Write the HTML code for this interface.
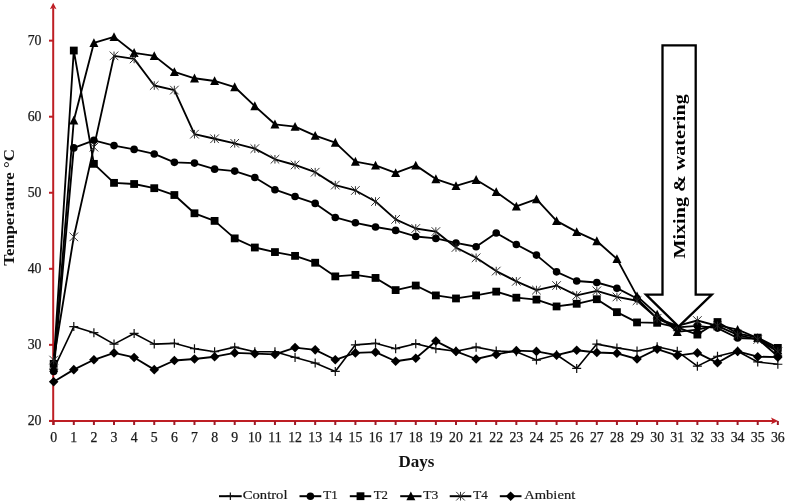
<!DOCTYPE html>
<html><head><meta charset="utf-8"><style>
html,body{margin:0;padding:0;background:#fff;}
svg{display:block;will-change:transform;}
</style></head><body>
<svg width="787" height="503" viewBox="0 0 787 503">
<rect width="787" height="503" fill="#fff"/>
<g stroke="#BE1E24" stroke-width="2" fill="none">
<path d="M53.2 425V8"/>
<path d="M49 420.9H775"/>
<path d="M49 420.9H53.2"/>
<path d="M49 344.85H53.2"/>
<path d="M49 268.8H53.2"/>
<path d="M49 192.75H53.2"/>
<path d="M49 116.7H53.2"/>
<path d="M49 40.65H53.2"/>
<path d="M53.67 421V425" stroke="#9E1A26"/>
<path d="M73.79 421V425" stroke="#9E1A26"/>
<path d="M93.9 421V425" stroke="#9E1A26"/>
<path d="M114.02 421V425" stroke="#9E1A26"/>
<path d="M134.13 421V425" stroke="#9E1A26"/>
<path d="M154.25 421V425" stroke="#9E1A26"/>
<path d="M174.37 421V425" stroke="#9E1A26"/>
<path d="M194.48 421V425" stroke="#9E1A26"/>
<path d="M214.6 421V425" stroke="#9E1A26"/>
<path d="M234.71 421V425" stroke="#9E1A26"/>
<path d="M254.83 421V425" stroke="#9E1A26"/>
<path d="M274.95 421V425" stroke="#9E1A26"/>
<path d="M295.06 421V425" stroke="#9E1A26"/>
<path d="M315.18 421V425" stroke="#9E1A26"/>
<path d="M335.29 421V425" stroke="#9E1A26"/>
<path d="M355.41 421V425" stroke="#9E1A26"/>
<path d="M375.53 421V425" stroke="#9E1A26"/>
<path d="M395.64 421V425" stroke="#9E1A26"/>
<path d="M415.76 421V425" stroke="#9E1A26"/>
<path d="M435.87 421V425" stroke="#9E1A26"/>
<path d="M455.99 421V425" stroke="#9E1A26"/>
<path d="M476.11 421V425" stroke="#9E1A26"/>
<path d="M496.22 421V425" stroke="#9E1A26"/>
<path d="M516.34 421V425" stroke="#9E1A26"/>
<path d="M536.45 421V425" stroke="#9E1A26"/>
<path d="M556.57 421V425" stroke="#9E1A26"/>
<path d="M576.69 421V425" stroke="#9E1A26"/>
<path d="M596.8 421V425" stroke="#9E1A26"/>
<path d="M616.92 421V425" stroke="#9E1A26"/>
<path d="M637.03 421V425" stroke="#9E1A26"/>
<path d="M657.15 421V425" stroke="#9E1A26"/>
<path d="M677.27 421V425" stroke="#9E1A26"/>
<path d="M697.38 421V425" stroke="#9E1A26"/>
<path d="M717.5 421V425" stroke="#9E1A26"/>
<path d="M737.61 421V425" stroke="#9E1A26"/>
<path d="M757.73 421V425" stroke="#9E1A26"/>
<path d="M777.85 421V425" stroke="#9E1A26"/>
</g>
<path d="M53.2 2.8L56.5 9.2L53.2 7.8L49.9 9.2Z" fill="#BE1E24"/>
<path d="M778.2 420.9L771 417.6L772.6 420.9L771 424.2Z" fill="#BE1E24"/>
<g font-family="Liberation Serif" font-size="13.8" fill="#1a1a1a" stroke="#1a1a1a" stroke-width="0.25"><text x="41.5" y="425" text-anchor="end">20</text><text x="41.5" y="348.95" text-anchor="end">30</text><text x="41.5" y="272.9" text-anchor="end">40</text><text x="41.5" y="196.85" text-anchor="end">50</text><text x="41.5" y="120.8" text-anchor="end">60</text><text x="41.5" y="44.75" text-anchor="end">70</text><text x="53.67" y="442.3" text-anchor="middle">0</text><text x="73.79" y="442.3" text-anchor="middle">1</text><text x="93.9" y="442.3" text-anchor="middle">2</text><text x="114.02" y="442.3" text-anchor="middle">3</text><text x="134.13" y="442.3" text-anchor="middle">4</text><text x="154.25" y="442.3" text-anchor="middle">5</text><text x="174.37" y="442.3" text-anchor="middle">6</text><text x="194.48" y="442.3" text-anchor="middle">7</text><text x="214.6" y="442.3" text-anchor="middle">8</text><text x="234.71" y="442.3" text-anchor="middle">9</text><text x="254.83" y="442.3" text-anchor="middle">10</text><text x="274.95" y="442.3" text-anchor="middle">11</text><text x="295.06" y="442.3" text-anchor="middle">12</text><text x="315.18" y="442.3" text-anchor="middle">13</text><text x="335.29" y="442.3" text-anchor="middle">14</text><text x="355.41" y="442.3" text-anchor="middle">15</text><text x="375.53" y="442.3" text-anchor="middle">16</text><text x="395.64" y="442.3" text-anchor="middle">17</text><text x="415.76" y="442.3" text-anchor="middle">18</text><text x="435.87" y="442.3" text-anchor="middle">19</text><text x="455.99" y="442.3" text-anchor="middle">20</text><text x="476.11" y="442.3" text-anchor="middle">21</text><text x="496.22" y="442.3" text-anchor="middle">22</text><text x="516.34" y="442.3" text-anchor="middle">23</text><text x="536.45" y="442.3" text-anchor="middle">24</text><text x="556.57" y="442.3" text-anchor="middle">25</text><text x="576.69" y="442.3" text-anchor="middle">26</text><text x="596.8" y="442.3" text-anchor="middle">27</text><text x="616.92" y="442.3" text-anchor="middle">28</text><text x="637.03" y="442.3" text-anchor="middle">29</text><text x="657.15" y="442.3" text-anchor="middle">30</text><text x="677.27" y="442.3" text-anchor="middle">31</text><text x="697.38" y="442.3" text-anchor="middle">32</text><text x="717.5" y="442.3" text-anchor="middle">33</text><text x="737.61" y="442.3" text-anchor="middle">34</text><text x="757.73" y="442.3" text-anchor="middle">35</text><text x="777.85" y="442.3" text-anchor="middle">36</text></g>
<text x="416.5" y="466.6" text-anchor="middle" font-family="Liberation Serif" font-size="17" font-weight="bold" fill="#111">Days</text>
<text transform="translate(14.3 207.4) rotate(-90) scale(1.124 1)" text-anchor="middle" font-family="Liberation Serif" font-size="15" font-weight="bold" fill="#111">Temperature °C</text>
<polyline points="53.67,369.19 73.79,326.6 93.9,332.68 114.02,344.09 134.13,333.44 154.25,344.09 174.37,343.33 194.48,348.65 214.6,351.69 234.71,347.13 254.83,351.69 274.95,351.69 295.06,357.4 315.18,363.1 335.29,371.47 355.41,344.85 375.53,343.33 395.64,348.65 415.76,343.71 435.87,348.65 455.99,351.31 476.11,347.13 496.22,350.93 516.34,351.69 536.45,360.06 556.57,354.74 576.69,368.43 596.8,344.09 616.92,347.89 637.03,350.93 657.15,346.75 677.27,351.31 697.38,366.14 717.5,356.26 737.61,351.31 757.73,361.96 777.85,364.24" fill="none" stroke="#000" stroke-width="1.6" stroke-linejoin="round"/>
<path d="M49.17 369.19H58.17M53.67 364.69V373.69" stroke="#111" stroke-width="1.2" fill="none"/>
<path d="M69.29 326.6H78.29M73.79 322.1V331.1" stroke="#111" stroke-width="1.2" fill="none"/>
<path d="M89.4 332.68H98.4M93.9 328.18V337.18" stroke="#111" stroke-width="1.2" fill="none"/>
<path d="M109.52 344.09H118.52M114.02 339.59V348.59" stroke="#111" stroke-width="1.2" fill="none"/>
<path d="M129.63 333.44H138.63M134.13 328.94V337.94" stroke="#111" stroke-width="1.2" fill="none"/>
<path d="M149.75 344.09H158.75M154.25 339.59V348.59" stroke="#111" stroke-width="1.2" fill="none"/>
<path d="M169.87 343.33H178.87M174.37 338.83V347.83" stroke="#111" stroke-width="1.2" fill="none"/>
<path d="M189.98 348.65H198.98M194.48 344.15V353.15" stroke="#111" stroke-width="1.2" fill="none"/>
<path d="M210.1 351.69H219.1M214.6 347.19V356.19" stroke="#111" stroke-width="1.2" fill="none"/>
<path d="M230.21 347.13H239.21M234.71 342.63V351.63" stroke="#111" stroke-width="1.2" fill="none"/>
<path d="M250.33 351.69H259.33M254.83 347.19V356.19" stroke="#111" stroke-width="1.2" fill="none"/>
<path d="M270.45 351.69H279.45M274.95 347.19V356.19" stroke="#111" stroke-width="1.2" fill="none"/>
<path d="M290.56 357.4H299.56M295.06 352.9V361.9" stroke="#111" stroke-width="1.2" fill="none"/>
<path d="M310.68 363.1H319.68M315.18 358.6V367.6" stroke="#111" stroke-width="1.2" fill="none"/>
<path d="M330.79 371.47H339.79M335.29 366.97V375.97" stroke="#111" stroke-width="1.2" fill="none"/>
<path d="M350.91 344.85H359.91M355.41 340.35V349.35" stroke="#111" stroke-width="1.2" fill="none"/>
<path d="M371.03 343.33H380.03M375.53 338.83V347.83" stroke="#111" stroke-width="1.2" fill="none"/>
<path d="M391.14 348.65H400.14M395.64 344.15V353.15" stroke="#111" stroke-width="1.2" fill="none"/>
<path d="M411.26 343.71H420.26M415.76 339.21V348.21" stroke="#111" stroke-width="1.2" fill="none"/>
<path d="M431.37 348.65H440.37M435.87 344.15V353.15" stroke="#111" stroke-width="1.2" fill="none"/>
<path d="M451.49 351.31H460.49M455.99 346.81V355.81" stroke="#111" stroke-width="1.2" fill="none"/>
<path d="M471.61 347.13H480.61M476.11 342.63V351.63" stroke="#111" stroke-width="1.2" fill="none"/>
<path d="M491.72 350.93H500.72M496.22 346.43V355.43" stroke="#111" stroke-width="1.2" fill="none"/>
<path d="M511.84 351.69H520.84M516.34 347.19V356.19" stroke="#111" stroke-width="1.2" fill="none"/>
<path d="M531.95 360.06H540.95M536.45 355.56V364.56" stroke="#111" stroke-width="1.2" fill="none"/>
<path d="M552.07 354.74H561.07M556.57 350.24V359.24" stroke="#111" stroke-width="1.2" fill="none"/>
<path d="M572.19 368.43H581.19M576.69 363.93V372.93" stroke="#111" stroke-width="1.2" fill="none"/>
<path d="M592.3 344.09H601.3M596.8 339.59V348.59" stroke="#111" stroke-width="1.2" fill="none"/>
<path d="M612.42 347.89H621.42M616.92 343.39V352.39" stroke="#111" stroke-width="1.2" fill="none"/>
<path d="M632.53 350.93H641.53M637.03 346.43V355.43" stroke="#111" stroke-width="1.2" fill="none"/>
<path d="M652.65 346.75H661.65M657.15 342.25V351.25" stroke="#111" stroke-width="1.2" fill="none"/>
<path d="M672.77 351.31H681.77M677.27 346.81V355.81" stroke="#111" stroke-width="1.2" fill="none"/>
<path d="M692.88 366.14H701.88M697.38 361.64V370.64" stroke="#111" stroke-width="1.2" fill="none"/>
<path d="M713 356.26H722M717.5 351.76V360.76" stroke="#111" stroke-width="1.2" fill="none"/>
<path d="M733.11 351.31H742.11M737.61 346.81V355.81" stroke="#111" stroke-width="1.2" fill="none"/>
<path d="M753.23 361.96H762.23M757.73 357.46V366.46" stroke="#111" stroke-width="1.2" fill="none"/>
<path d="M773.35 364.24H782.35M777.85 359.74V368.74" stroke="#111" stroke-width="1.2" fill="none"/>
<polyline points="53.67,371.47 73.79,147.88 93.9,140.28 114.02,145.6 134.13,149.4 154.25,153.96 174.37,162.33 194.48,163.09 214.6,169.17 234.71,171.08 254.83,177.54 274.95,189.71 295.06,196.55 315.18,203.4 335.29,217.47 355.41,222.79 375.53,226.97 395.64,230.39 415.76,236.48 435.87,238.38 455.99,242.94 476.11,246.75 496.22,233.06 516.34,244.46 536.45,255.11 556.57,271.84 576.69,280.97 596.8,282.49 616.92,288.19 637.03,298.46 657.15,318.61 677.27,327.36 697.38,325.84 717.5,328.12 737.61,338.01 757.73,338.77 777.85,356.26" fill="none" stroke="#000" stroke-width="1.85" stroke-linejoin="round"/>
<circle cx="53.67" cy="371.47" r="3.8" fill="#000"/>
<circle cx="73.79" cy="147.88" r="3.8" fill="#000"/>
<circle cx="93.9" cy="140.28" r="3.8" fill="#000"/>
<circle cx="114.02" cy="145.6" r="3.8" fill="#000"/>
<circle cx="134.13" cy="149.4" r="3.8" fill="#000"/>
<circle cx="154.25" cy="153.96" r="3.8" fill="#000"/>
<circle cx="174.37" cy="162.33" r="3.8" fill="#000"/>
<circle cx="194.48" cy="163.09" r="3.8" fill="#000"/>
<circle cx="214.6" cy="169.17" r="3.8" fill="#000"/>
<circle cx="234.71" cy="171.08" r="3.8" fill="#000"/>
<circle cx="254.83" cy="177.54" r="3.8" fill="#000"/>
<circle cx="274.95" cy="189.71" r="3.8" fill="#000"/>
<circle cx="295.06" cy="196.55" r="3.8" fill="#000"/>
<circle cx="315.18" cy="203.4" r="3.8" fill="#000"/>
<circle cx="335.29" cy="217.47" r="3.8" fill="#000"/>
<circle cx="355.41" cy="222.79" r="3.8" fill="#000"/>
<circle cx="375.53" cy="226.97" r="3.8" fill="#000"/>
<circle cx="395.64" cy="230.39" r="3.8" fill="#000"/>
<circle cx="415.76" cy="236.48" r="3.8" fill="#000"/>
<circle cx="435.87" cy="238.38" r="3.8" fill="#000"/>
<circle cx="455.99" cy="242.94" r="3.8" fill="#000"/>
<circle cx="476.11" cy="246.75" r="3.8" fill="#000"/>
<circle cx="496.22" cy="233.06" r="3.8" fill="#000"/>
<circle cx="516.34" cy="244.46" r="3.8" fill="#000"/>
<circle cx="536.45" cy="255.11" r="3.8" fill="#000"/>
<circle cx="556.57" cy="271.84" r="3.8" fill="#000"/>
<circle cx="576.69" cy="280.97" r="3.8" fill="#000"/>
<circle cx="596.8" cy="282.49" r="3.8" fill="#000"/>
<circle cx="616.92" cy="288.19" r="3.8" fill="#000"/>
<circle cx="637.03" cy="298.46" r="3.8" fill="#000"/>
<circle cx="657.15" cy="318.61" r="3.8" fill="#000"/>
<circle cx="677.27" cy="327.36" r="3.8" fill="#000"/>
<circle cx="697.38" cy="325.84" r="3.8" fill="#000"/>
<circle cx="717.5" cy="328.12" r="3.8" fill="#000"/>
<circle cx="737.61" cy="338.01" r="3.8" fill="#000"/>
<circle cx="757.73" cy="338.77" r="3.8" fill="#000"/>
<circle cx="777.85" cy="356.26" r="3.8" fill="#000"/>
<polyline points="53.67,363.86 73.79,50.54 93.9,163.85 114.02,182.86 134.13,184 154.25,188.19 174.37,195.03 194.48,213.28 214.6,220.89 234.71,238.38 254.83,247.51 274.95,252.07 295.06,255.87 315.18,262.72 335.29,276.4 355.41,274.88 375.53,277.93 395.64,290.09 415.76,285.53 435.87,295.42 455.99,298.46 476.11,295.42 496.22,291.62 516.34,297.7 536.45,299.6 556.57,306.44 576.69,303.78 596.8,299.22 616.92,312.15 637.03,322.42 657.15,322.8 677.27,327.36 697.38,334.58 717.5,322.03 737.61,333.44 757.73,337.63 777.85,347.89" fill="none" stroke="#000" stroke-width="1.85" stroke-linejoin="round"/>
<rect x="49.77" y="359.96" width="7.8" height="7.8" fill="#000"/>
<rect x="69.89" y="46.64" width="7.8" height="7.8" fill="#000"/>
<rect x="90" y="159.95" width="7.8" height="7.8" fill="#000"/>
<rect x="110.12" y="178.96" width="7.8" height="7.8" fill="#000"/>
<rect x="130.23" y="180.1" width="7.8" height="7.8" fill="#000"/>
<rect x="150.35" y="184.29" width="7.8" height="7.8" fill="#000"/>
<rect x="170.47" y="191.13" width="7.8" height="7.8" fill="#000"/>
<rect x="190.58" y="209.38" width="7.8" height="7.8" fill="#000"/>
<rect x="210.7" y="216.99" width="7.8" height="7.8" fill="#000"/>
<rect x="230.81" y="234.48" width="7.8" height="7.8" fill="#000"/>
<rect x="250.93" y="243.61" width="7.8" height="7.8" fill="#000"/>
<rect x="271.05" y="248.17" width="7.8" height="7.8" fill="#000"/>
<rect x="291.16" y="251.97" width="7.8" height="7.8" fill="#000"/>
<rect x="311.28" y="258.82" width="7.8" height="7.8" fill="#000"/>
<rect x="331.39" y="272.5" width="7.8" height="7.8" fill="#000"/>
<rect x="351.51" y="270.98" width="7.8" height="7.8" fill="#000"/>
<rect x="371.63" y="274.03" width="7.8" height="7.8" fill="#000"/>
<rect x="391.74" y="286.19" width="7.8" height="7.8" fill="#000"/>
<rect x="411.86" y="281.63" width="7.8" height="7.8" fill="#000"/>
<rect x="431.97" y="291.52" width="7.8" height="7.8" fill="#000"/>
<rect x="452.09" y="294.56" width="7.8" height="7.8" fill="#000"/>
<rect x="472.21" y="291.52" width="7.8" height="7.8" fill="#000"/>
<rect x="492.32" y="287.72" width="7.8" height="7.8" fill="#000"/>
<rect x="512.44" y="293.8" width="7.8" height="7.8" fill="#000"/>
<rect x="532.55" y="295.7" width="7.8" height="7.8" fill="#000"/>
<rect x="552.67" y="302.54" width="7.8" height="7.8" fill="#000"/>
<rect x="572.79" y="299.88" width="7.8" height="7.8" fill="#000"/>
<rect x="592.9" y="295.32" width="7.8" height="7.8" fill="#000"/>
<rect x="613.02" y="308.25" width="7.8" height="7.8" fill="#000"/>
<rect x="633.13" y="318.52" width="7.8" height="7.8" fill="#000"/>
<rect x="653.25" y="318.9" width="7.8" height="7.8" fill="#000"/>
<rect x="673.37" y="323.46" width="7.8" height="7.8" fill="#000"/>
<rect x="693.48" y="330.68" width="7.8" height="7.8" fill="#000"/>
<rect x="713.6" y="318.13" width="7.8" height="7.8" fill="#000"/>
<rect x="733.71" y="329.54" width="7.8" height="7.8" fill="#000"/>
<rect x="753.83" y="333.73" width="7.8" height="7.8" fill="#000"/>
<rect x="773.95" y="343.99" width="7.8" height="7.8" fill="#000"/>
<polyline points="53.67,367.66 73.79,120.5 93.9,42.93 114.02,36.85 134.13,52.82 154.25,55.86 174.37,71.83 194.48,78.29 214.6,80.96 234.71,87.04 254.83,106.05 274.95,124.3 295.06,126.59 315.18,135.71 335.29,142.56 355.41,161.57 375.53,165.37 395.64,172.98 415.76,165.37 435.87,179.06 455.99,185.91 476.11,179.82 496.22,191.99 516.34,206.44 536.45,199.21 556.57,220.89 576.69,231.92 596.8,241.04 616.92,258.91 637.03,296.18 657.15,314.43 677.27,331.92 697.38,329.64 717.5,325.08 737.61,329.64 757.73,338.01 777.85,350.17" fill="none" stroke="#000" stroke-width="1.85" stroke-linejoin="round"/>
<path d="M53.67 362.96L58.17 371.76L49.17 371.76Z" fill="#000"/>
<path d="M73.79 115.8L78.29 124.6L69.29 124.6Z" fill="#000"/>
<path d="M93.9 38.23L98.4 47.03L89.4 47.03Z" fill="#000"/>
<path d="M114.02 32.15L118.52 40.95L109.52 40.95Z" fill="#000"/>
<path d="M134.13 48.12L138.63 56.92L129.63 56.92Z" fill="#000"/>
<path d="M154.25 51.16L158.75 59.96L149.75 59.96Z" fill="#000"/>
<path d="M174.37 67.13L178.87 75.93L169.87 75.93Z" fill="#000"/>
<path d="M194.48 73.59L198.98 82.39L189.98 82.39Z" fill="#000"/>
<path d="M214.6 76.26L219.1 85.06L210.1 85.06Z" fill="#000"/>
<path d="M234.71 82.34L239.21 91.14L230.21 91.14Z" fill="#000"/>
<path d="M254.83 101.35L259.33 110.15L250.33 110.15Z" fill="#000"/>
<path d="M274.95 119.6L279.45 128.4L270.45 128.4Z" fill="#000"/>
<path d="M295.06 121.89L299.56 130.69L290.56 130.69Z" fill="#000"/>
<path d="M315.18 131.01L319.68 139.81L310.68 139.81Z" fill="#000"/>
<path d="M335.29 137.86L339.79 146.66L330.79 146.66Z" fill="#000"/>
<path d="M355.41 156.87L359.91 165.67L350.91 165.67Z" fill="#000"/>
<path d="M375.53 160.67L380.03 169.47L371.03 169.47Z" fill="#000"/>
<path d="M395.64 168.28L400.14 177.08L391.14 177.08Z" fill="#000"/>
<path d="M415.76 160.67L420.26 169.47L411.26 169.47Z" fill="#000"/>
<path d="M435.87 174.36L440.37 183.16L431.37 183.16Z" fill="#000"/>
<path d="M455.99 181.21L460.49 190.01L451.49 190.01Z" fill="#000"/>
<path d="M476.11 175.12L480.61 183.92L471.61 183.92Z" fill="#000"/>
<path d="M496.22 187.29L500.72 196.09L491.72 196.09Z" fill="#000"/>
<path d="M516.34 201.74L520.84 210.54L511.84 210.54Z" fill="#000"/>
<path d="M536.45 194.51L540.95 203.31L531.95 203.31Z" fill="#000"/>
<path d="M556.57 216.19L561.07 224.99L552.07 224.99Z" fill="#000"/>
<path d="M576.69 227.22L581.19 236.02L572.19 236.02Z" fill="#000"/>
<path d="M596.8 236.34L601.3 245.14L592.3 245.14Z" fill="#000"/>
<path d="M616.92 254.21L621.42 263.01L612.42 263.01Z" fill="#000"/>
<path d="M637.03 291.48L641.53 300.28L632.53 300.28Z" fill="#000"/>
<path d="M657.15 309.73L661.65 318.53L652.65 318.53Z" fill="#000"/>
<path d="M677.27 327.22L681.77 336.02L672.77 336.02Z" fill="#000"/>
<path d="M697.38 324.94L701.88 333.74L692.88 333.74Z" fill="#000"/>
<path d="M717.5 320.38L722 329.18L713 329.18Z" fill="#000"/>
<path d="M737.61 324.94L742.11 333.74L733.11 333.74Z" fill="#000"/>
<path d="M757.73 333.31L762.23 342.11L753.23 342.11Z" fill="#000"/>
<path d="M777.85 345.47L782.35 354.27L773.35 354.27Z" fill="#000"/>
<polyline points="53.67,360.06 73.79,236.86 93.9,147.12 114.02,55.86 134.13,58.9 154.25,85.52 174.37,90.08 194.48,134.19 214.6,138.75 234.71,143.32 254.83,148.64 274.95,159.29 295.06,164.99 315.18,172.22 335.29,185.14 355.41,190.47 375.53,201.5 395.64,219.37 415.76,228.49 435.87,231.54 455.99,247.51 476.11,257.77 496.22,271.08 516.34,281.35 536.45,290.09 556.57,285.53 576.69,295.42 596.8,290.85 616.92,296.94 637.03,300.74 657.15,318.23 677.27,325.84 697.38,320.51 717.5,325.84 737.61,334.96 757.73,339.53 777.85,351.69" fill="none" stroke="#000" stroke-width="1.85" stroke-linejoin="round"/>
<path d="M49.37 355.76L57.97 364.36M49.37 364.36L57.97 355.76M53.67 355.76V364.36" stroke="#2a2a2a" stroke-width="0.95" fill="none"/>
<path d="M69.49 232.56L78.09 241.16M69.49 241.16L78.09 232.56M73.79 232.56V241.16" stroke="#2a2a2a" stroke-width="0.95" fill="none"/>
<path d="M89.6 142.82L98.2 151.42M89.6 151.42L98.2 142.82M93.9 142.82V151.42" stroke="#2a2a2a" stroke-width="0.95" fill="none"/>
<path d="M109.72 51.56L118.32 60.16M109.72 60.16L118.32 51.56M114.02 51.56V60.16" stroke="#2a2a2a" stroke-width="0.95" fill="none"/>
<path d="M129.83 54.6L138.43 63.2M129.83 63.2L138.43 54.6M134.13 54.6V63.2" stroke="#2a2a2a" stroke-width="0.95" fill="none"/>
<path d="M149.95 81.22L158.55 89.82M149.95 89.82L158.55 81.22M154.25 81.22V89.82" stroke="#2a2a2a" stroke-width="0.95" fill="none"/>
<path d="M170.07 85.78L178.67 94.38M170.07 94.38L178.67 85.78M174.37 85.78V94.38" stroke="#2a2a2a" stroke-width="0.95" fill="none"/>
<path d="M190.18 129.89L198.78 138.49M190.18 138.49L198.78 129.89M194.48 129.89V138.49" stroke="#2a2a2a" stroke-width="0.95" fill="none"/>
<path d="M210.3 134.45L218.9 143.05M210.3 143.05L218.9 134.45M214.6 134.45V143.05" stroke="#2a2a2a" stroke-width="0.95" fill="none"/>
<path d="M230.41 139.02L239.01 147.62M230.41 147.62L239.01 139.02M234.71 139.02V147.62" stroke="#2a2a2a" stroke-width="0.95" fill="none"/>
<path d="M250.53 144.34L259.13 152.94M250.53 152.94L259.13 144.34M254.83 144.34V152.94" stroke="#2a2a2a" stroke-width="0.95" fill="none"/>
<path d="M270.65 154.99L279.25 163.59M270.65 163.59L279.25 154.99M274.95 154.99V163.59" stroke="#2a2a2a" stroke-width="0.95" fill="none"/>
<path d="M290.76 160.69L299.36 169.29M290.76 169.29L299.36 160.69M295.06 160.69V169.29" stroke="#2a2a2a" stroke-width="0.95" fill="none"/>
<path d="M310.88 167.92L319.48 176.52M310.88 176.52L319.48 167.92M315.18 167.92V176.52" stroke="#2a2a2a" stroke-width="0.95" fill="none"/>
<path d="M330.99 180.84L339.59 189.44M330.99 189.44L339.59 180.84M335.29 180.84V189.44" stroke="#2a2a2a" stroke-width="0.95" fill="none"/>
<path d="M351.11 186.17L359.71 194.77M351.11 194.77L359.71 186.17M355.41 186.17V194.77" stroke="#2a2a2a" stroke-width="0.95" fill="none"/>
<path d="M371.23 197.2L379.83 205.8M371.23 205.8L379.83 197.2M375.53 197.2V205.8" stroke="#2a2a2a" stroke-width="0.95" fill="none"/>
<path d="M391.34 215.07L399.94 223.67M391.34 223.67L399.94 215.07M395.64 215.07V223.67" stroke="#2a2a2a" stroke-width="0.95" fill="none"/>
<path d="M411.46 224.19L420.06 232.79M411.46 232.79L420.06 224.19M415.76 224.19V232.79" stroke="#2a2a2a" stroke-width="0.95" fill="none"/>
<path d="M431.57 227.24L440.17 235.84M431.57 235.84L440.17 227.24M435.87 227.24V235.84" stroke="#2a2a2a" stroke-width="0.95" fill="none"/>
<path d="M451.69 243.21L460.29 251.81M451.69 251.81L460.29 243.21M455.99 243.21V251.81" stroke="#2a2a2a" stroke-width="0.95" fill="none"/>
<path d="M471.81 253.47L480.41 262.07M471.81 262.07L480.41 253.47M476.11 253.47V262.07" stroke="#2a2a2a" stroke-width="0.95" fill="none"/>
<path d="M491.92 266.78L500.52 275.38M491.92 275.38L500.52 266.78M496.22 266.78V275.38" stroke="#2a2a2a" stroke-width="0.95" fill="none"/>
<path d="M512.04 277.05L520.64 285.65M512.04 285.65L520.64 277.05M516.34 277.05V285.65" stroke="#2a2a2a" stroke-width="0.95" fill="none"/>
<path d="M532.15 285.79L540.75 294.39M532.15 294.39L540.75 285.79M536.45 285.79V294.39" stroke="#2a2a2a" stroke-width="0.95" fill="none"/>
<path d="M552.27 281.23L560.87 289.83M552.27 289.83L560.87 281.23M556.57 281.23V289.83" stroke="#2a2a2a" stroke-width="0.95" fill="none"/>
<path d="M572.39 291.12L580.99 299.72M572.39 299.72L580.99 291.12M576.69 291.12V299.72" stroke="#2a2a2a" stroke-width="0.95" fill="none"/>
<path d="M592.5 286.55L601.1 295.15M592.5 295.15L601.1 286.55M596.8 286.55V295.15" stroke="#2a2a2a" stroke-width="0.95" fill="none"/>
<path d="M612.62 292.64L621.22 301.24M612.62 301.24L621.22 292.64M616.92 292.64V301.24" stroke="#2a2a2a" stroke-width="0.95" fill="none"/>
<path d="M632.73 296.44L641.33 305.04M632.73 305.04L641.33 296.44M637.03 296.44V305.04" stroke="#2a2a2a" stroke-width="0.95" fill="none"/>
<path d="M652.85 313.93L661.45 322.53M652.85 322.53L661.45 313.93M657.15 313.93V322.53" stroke="#2a2a2a" stroke-width="0.95" fill="none"/>
<path d="M672.97 321.54L681.57 330.14M672.97 330.14L681.57 321.54M677.27 321.54V330.14" stroke="#2a2a2a" stroke-width="0.95" fill="none"/>
<path d="M693.08 316.21L701.68 324.81M693.08 324.81L701.68 316.21M697.38 316.21V324.81" stroke="#2a2a2a" stroke-width="0.95" fill="none"/>
<path d="M713.2 321.54L721.8 330.14M713.2 330.14L721.8 321.54M717.5 321.54V330.14" stroke="#2a2a2a" stroke-width="0.95" fill="none"/>
<path d="M733.31 330.66L741.91 339.26M733.31 339.26L741.91 330.66M737.61 330.66V339.26" stroke="#2a2a2a" stroke-width="0.95" fill="none"/>
<path d="M753.43 335.23L762.03 343.83M753.43 343.83L762.03 335.23M757.73 335.23V343.83" stroke="#2a2a2a" stroke-width="0.95" fill="none"/>
<path d="M773.55 347.39L782.15 355.99M773.55 355.99L782.15 347.39M777.85 347.39V355.99" stroke="#2a2a2a" stroke-width="0.95" fill="none"/>
<polyline points="53.67,381.81 73.79,369.64 93.9,359.76 114.02,352.91 134.13,357.47 154.25,369.64 174.37,360.52 194.48,359 214.6,356.71 234.71,352.91 254.83,353.67 274.95,354.43 295.06,347.59 315.18,349.87 335.29,359.76 355.41,352.91 375.53,352.15 395.64,361.28 415.76,358.23 435.87,341.12 455.99,351.39 476.11,359 496.22,354.43 516.34,350.63 536.45,351.39 556.57,355.19 576.69,350.25 596.8,352.53 616.92,353.29 637.03,359 657.15,349.11 677.27,355.57 697.38,352.91 717.5,362.8 737.61,351.39 757.73,356.71 777.85,357.09" fill="none" stroke="#000" stroke-width="1.85" stroke-linejoin="round"/>
<path d="M53.67 377.01L58.47 381.81L53.67 386.61L48.87 381.81Z" fill="#000"/>
<path d="M73.79 364.84L78.59 369.64L73.79 374.44L68.99 369.64Z" fill="#000"/>
<path d="M93.9 354.96L98.7 359.76L93.9 364.56L89.1 359.76Z" fill="#000"/>
<path d="M114.02 348.11L118.82 352.91L114.02 357.71L109.22 352.91Z" fill="#000"/>
<path d="M134.13 352.67L138.93 357.47L134.13 362.27L129.33 357.47Z" fill="#000"/>
<path d="M154.25 364.84L159.05 369.64L154.25 374.44L149.45 369.64Z" fill="#000"/>
<path d="M174.37 355.72L179.17 360.52L174.37 365.32L169.57 360.52Z" fill="#000"/>
<path d="M194.48 354.2L199.28 359L194.48 363.8L189.68 359Z" fill="#000"/>
<path d="M214.6 351.91L219.4 356.71L214.6 361.51L209.8 356.71Z" fill="#000"/>
<path d="M234.71 348.11L239.51 352.91L234.71 357.71L229.91 352.91Z" fill="#000"/>
<path d="M254.83 348.87L259.63 353.67L254.83 358.47L250.03 353.67Z" fill="#000"/>
<path d="M274.95 349.63L279.75 354.43L274.95 359.23L270.15 354.43Z" fill="#000"/>
<path d="M295.06 342.79L299.86 347.59L295.06 352.39L290.26 347.59Z" fill="#000"/>
<path d="M315.18 345.07L319.98 349.87L315.18 354.67L310.38 349.87Z" fill="#000"/>
<path d="M335.29 354.96L340.09 359.76L335.29 364.56L330.49 359.76Z" fill="#000"/>
<path d="M355.41 348.11L360.21 352.91L355.41 357.71L350.61 352.91Z" fill="#000"/>
<path d="M375.53 347.35L380.33 352.15L375.53 356.95L370.73 352.15Z" fill="#000"/>
<path d="M395.64 356.48L400.44 361.28L395.64 366.08L390.84 361.28Z" fill="#000"/>
<path d="M415.76 353.43L420.56 358.23L415.76 363.03L410.96 358.23Z" fill="#000"/>
<path d="M435.87 336.32L440.67 341.12L435.87 345.92L431.07 341.12Z" fill="#000"/>
<path d="M455.99 346.59L460.79 351.39L455.99 356.19L451.19 351.39Z" fill="#000"/>
<path d="M476.11 354.2L480.91 359L476.11 363.8L471.31 359Z" fill="#000"/>
<path d="M496.22 349.63L501.02 354.43L496.22 359.23L491.42 354.43Z" fill="#000"/>
<path d="M516.34 345.83L521.14 350.63L516.34 355.43L511.54 350.63Z" fill="#000"/>
<path d="M536.45 346.59L541.25 351.39L536.45 356.19L531.65 351.39Z" fill="#000"/>
<path d="M556.57 350.39L561.37 355.19L556.57 359.99L551.77 355.19Z" fill="#000"/>
<path d="M576.69 345.45L581.49 350.25L576.69 355.05L571.89 350.25Z" fill="#000"/>
<path d="M596.8 347.73L601.6 352.53L596.8 357.33L592 352.53Z" fill="#000"/>
<path d="M616.92 348.49L621.72 353.29L616.92 358.09L612.12 353.29Z" fill="#000"/>
<path d="M637.03 354.2L641.83 359L637.03 363.8L632.23 359Z" fill="#000"/>
<path d="M657.15 344.31L661.95 349.11L657.15 353.91L652.35 349.11Z" fill="#000"/>
<path d="M677.27 350.77L682.07 355.57L677.27 360.37L672.47 355.57Z" fill="#000"/>
<path d="M697.38 348.11L702.18 352.91L697.38 357.71L692.58 352.91Z" fill="#000"/>
<path d="M717.5 358L722.3 362.8L717.5 367.6L712.7 362.8Z" fill="#000"/>
<path d="M737.61 346.59L742.41 351.39L737.61 356.19L732.81 351.39Z" fill="#000"/>
<path d="M757.73 351.91L762.53 356.71L757.73 361.51L752.93 356.71Z" fill="#000"/>
<path d="M777.85 352.29L782.65 357.09L777.85 361.89L773.05 357.09Z" fill="#000"/>
<path d="M662.5 45.3H695.7V294.6H711.8L678.6 326.6L646 294.6H662.5Z" fill="#fff" stroke="#000" stroke-width="2.3" stroke-linejoin="miter" stroke-miterlimit="10"/>
<text transform="translate(685 176.4) rotate(-90) scale(1.15 1)" text-anchor="middle" font-family="Liberation Serif" font-size="17.5" font-weight="bold" fill="#000">Mixing &amp; watering</text>
<path d="M219 496.2H241.7" stroke="#000" stroke-width="2"/><path d="M226.55 496.2H234.15M230.35 492.4V500" stroke="#111" stroke-width="1.2" fill="none"/><text transform="translate(242.8 499.3) scale(1.083 1)" font-family="Liberation Serif" font-size="13.5" fill="#1a1a1a" stroke="#1a1a1a" stroke-width="0.2">Control</text><path d="M299.5 496.2H321.3" stroke="#000" stroke-width="2"/><circle cx="310.4" cy="496.2" r="3.8" fill="#000"/><text transform="translate(323.3 499.3) scale(0.973 1)" font-family="Liberation Serif" font-size="13.5" fill="#1a1a1a" stroke="#1a1a1a" stroke-width="0.2">T1</text><path d="M349.8 496.2H371.2" stroke="#000" stroke-width="2"/><rect x="356.6" y="492.3" width="7.8" height="7.8" fill="#000"/><text transform="translate(373.7 499.3) scale(0.947 1)" font-family="Liberation Serif" font-size="13.5" fill="#1a1a1a" stroke="#1a1a1a" stroke-width="0.2">T2</text><path d="M400.2 496.2H421.5" stroke="#000" stroke-width="2"/><path d="M410.85 491.5L415.35 500.3L406.35 500.3Z" fill="#000"/><text transform="translate(423.3 499.3) scale(1.000 1)" font-family="Liberation Serif" font-size="13.5" fill="#1a1a1a" stroke="#1a1a1a" stroke-width="0.2">T3</text><path d="M449.7 496.2H471.3" stroke="#000" stroke-width="2"/><path d="M456.2 491.9L464.8 500.5M456.2 500.5L464.8 491.9M460.5 491.9V500.5" stroke="#2a2a2a" stroke-width="0.95" fill="none"/><text transform="translate(473.2 499.3) scale(0.973 1)" font-family="Liberation Serif" font-size="13.5" fill="#1a1a1a" stroke="#1a1a1a" stroke-width="0.2">T4</text><path d="M499.8 496.2H521.5" stroke="#000" stroke-width="2"/><path d="M510.65 491.4L515.45 496.2L510.65 501L505.85 496.2Z" fill="#000"/><text transform="translate(524.2 499.3) scale(1.081 1)" font-family="Liberation Serif" font-size="13.5" fill="#1a1a1a" stroke="#1a1a1a" stroke-width="0.2">Ambient</text>
</svg>
</body></html>
